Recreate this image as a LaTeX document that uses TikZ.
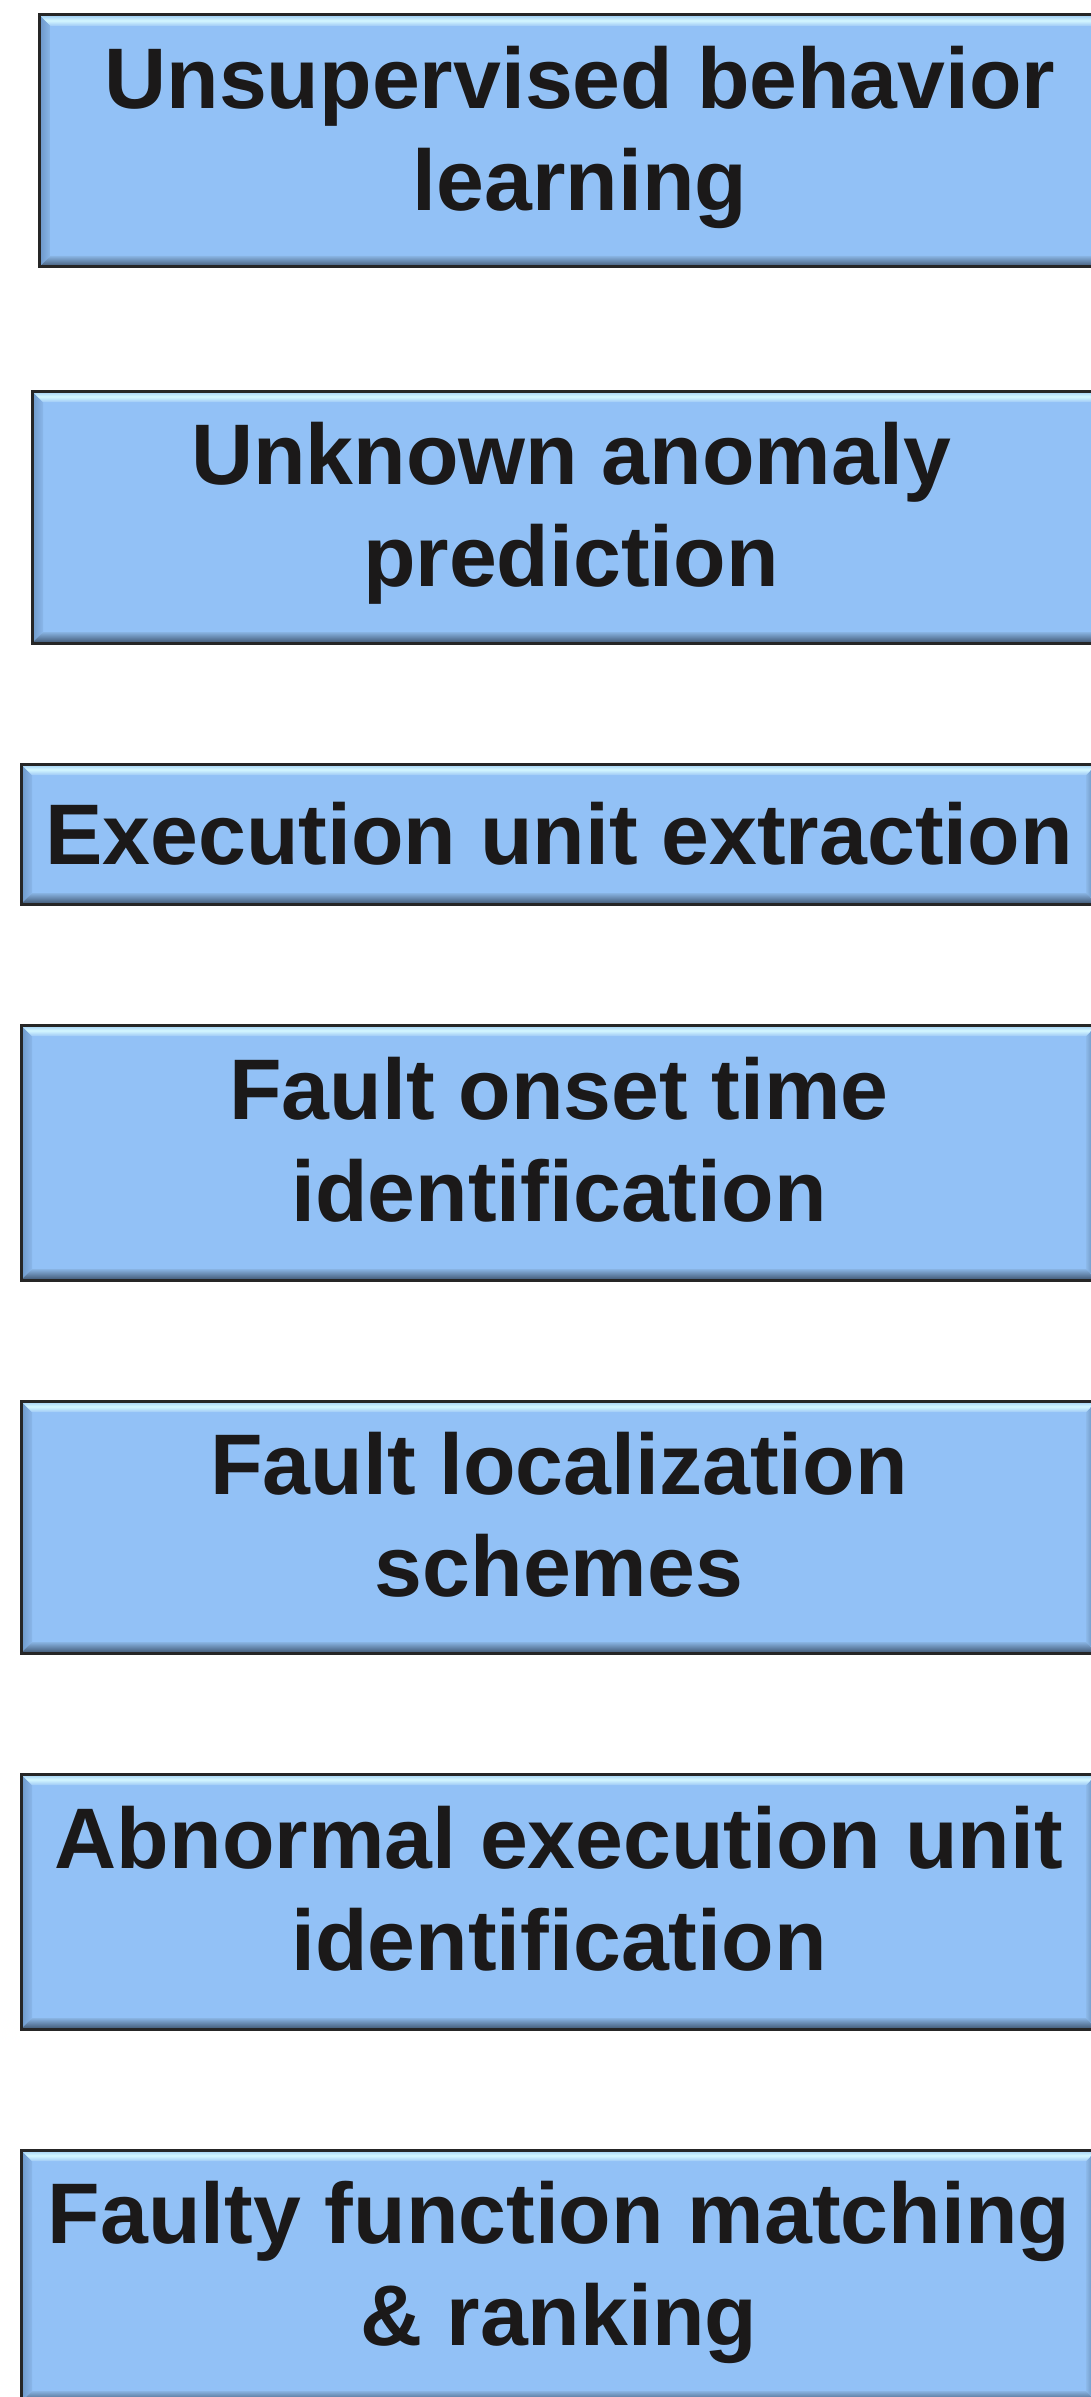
\documentclass[tikz,border=0pt]{standalone}
\usepackage{fontspec}
\setmainfont{Liberation Sans}
\definecolor{boxblue}{HTML}{92C1F6}
\definecolor{inkblack}{HTML}{1B1919}
\definecolor{edgegray}{HTML}{262626}
\definecolor{bevTopA}{HTML}{9CCBF3}
\definecolor{bevTopB}{HTML}{D4F7FF}
\definecolor{bevTopC}{HTML}{9FCAF6}
\definecolor{bevLeftA}{HTML}{6C97C8}
\definecolor{bevLeftB}{HTML}{8AB7EA}
\definecolor{bevBotA}{HTML}{88B3E2}
\definecolor{bevBotB}{HTML}{3F5671}
\definecolor{bevRightA}{HTML}{8CB9EA}
\definecolor{bevRightB}{HTML}{5A7FA8}
\newlength{\bvw}
\setlength{\bvw}{11pt}
\tikzset{
  bevelbox/.style={
    rectangle, draw=edgegray, line width=3pt, fill=boxblue,
    inner sep=0pt, align=center, text=inkblack,
    font=\fontsize{86}{102}\selectfont\bfseries,
    path picture={
      % outer corners of the box
      \coordinate (pNW) at (path picture bounding box.north west);
      \coordinate (pNE) at (path picture bounding box.north east);
      \coordinate (pSW) at (path picture bounding box.south west);
      \coordinate (pSE) at (path picture bounding box.south east);
      % inner corners of the bevel
      \coordinate (iNW) at ([shift={(\bvw,-\bvw)}]pNW);
      \coordinate (iNE) at ([shift={(-\bvw,-\bvw)}]pNE);
      \coordinate (iSW) at ([shift={(\bvw,\bvw)}]pSW);
      \coordinate (iSE) at ([shift={(-\bvw,\bvw)}]pSE);
      % four bevel faces
      \shade[left color=bevLeftA, right color=bevLeftB]
        (pNW) -- (iNW) -- (iSW) -- (pSW) -- cycle;
      \shade[left color=bevRightA, right color=bevRightB]
        (pNE) -- (iNE) -- (iSE) -- (pSE) -- cycle;
      \shade[top color=bevBotA, bottom color=bevBotB]
        (pSW) -- (iSW) -- (iSE) -- (pSE) -- cycle;
      \shade[top color=bevTopA, bottom color=bevTopC, middle color=bevTopB]
        (pNW) -- (pNE) -- (iNE) -- (iNW) -- cycle;
    }
  },
  % same vertical placement for every two-line label
  twoline/.style={text depth=26pt}
}
\begin{document}
\begin{tikzpicture}[x=1pt, y=-1pt]
  \clip (0,0) rectangle (1091,2397);
  \fill[white] (0,0) rectangle (1091,2397);

  \node[bevelbox, twoline, minimum width=1081pt, minimum height=252pt] (learn)
    at (580,141) {Unsupervised behavior\\learning};
  \node[bevelbox, twoline, minimum width=1078pt, minimum height=252pt] (predict)
    at (571,517) {Unknown anomaly\\prediction};
  \node[bevelbox, text depth=2pt, minimum width=1076pt, minimum height=140pt] (extract)
    at (559,834) {Execution unit extraction};
  \node[bevelbox, twoline, minimum width=1076pt, minimum height=255pt] (onset)
    at (559,1152.5) {Fault onset time\\identification};
  \node[bevelbox, twoline, minimum width=1076pt, minimum height=252pt] (schemes)
    at (559,1527) {Fault localization\\schemes};
  \node[bevelbox, twoline, minimum width=1076pt, minimum height=255pt] (abnormal)
    at (559,1901.5) {Abnormal execution unit\\identification};
  \node[bevelbox, twoline, minimum width=1076pt, minimum height=252pt] (ranking)
    at (559,2276) {Faulty function matching\\\& ranking};
\end{tikzpicture}
\end{document}
